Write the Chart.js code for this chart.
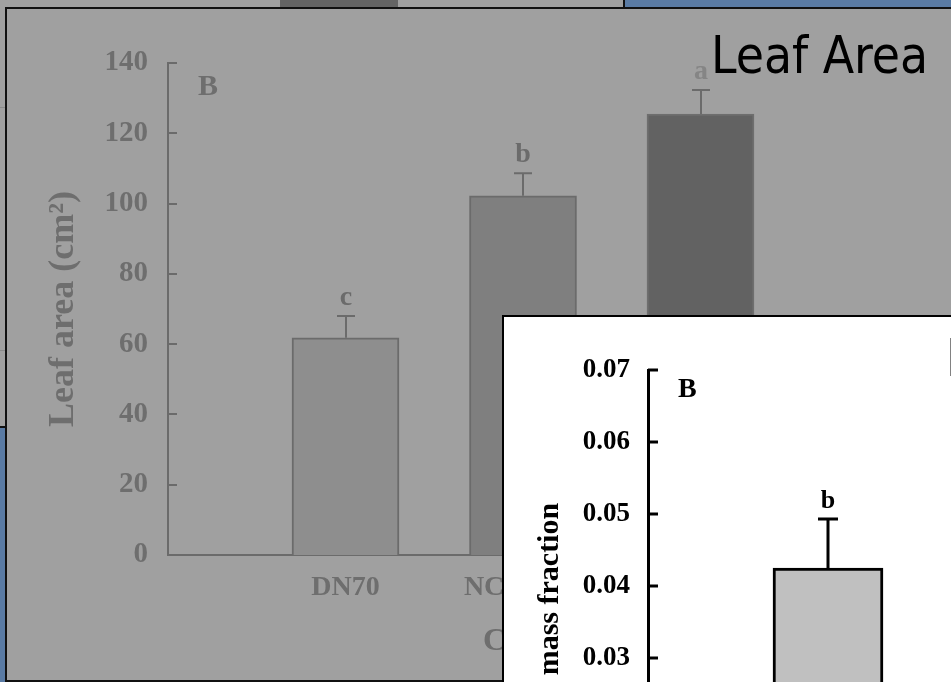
<!DOCTYPE html>
<html>
<head>
<meta charset="utf-8">
<title>Leaf Area</title>
<script src="https://cdn.jsdelivr.net/npm/chart.js@4.4.1/dist/chart.umd.min.js"></script>
<style>
  body { margin:0; width:951px; height:682px; overflow:hidden; position:relative; background:#5a7ba4; }
  .Block { position:absolute; }
  #TopStrip { left:0; top:0; width:623px; height:8px; background:#a0a0a0; }
  #TopBar { left:280px; top:0; width:118px; height:8px; background:#646464; }
  #TopEdge { left:623px; top:0; width:2px; height:8px; background:#111; }
  #LeftStrip { left:0; top:0; width:5px; height:426px; background:#a0a0a0; border-bottom:2px solid #111; }
  .StripLine { left:0; width:5px; height:1px; background:#8a8a8a; }
  #MainPanel { left:5px; top:7px; width:946px; height:671px; background:#a0a0a0; border-left:2px solid #111; border-top:2px solid #111; border-bottom:2px solid #111; overflow:hidden; }
  #MassPanel { left:502px; top:315px; width:449px; height:367px; background:#fff; border-left:2px solid #000; border-top:2px solid #000; overflow:hidden; }
  canvas { position:absolute; left:0; top:0; }
  .Serif { font-family:'Liberation Serif','Times New Roman',serif; font-weight:bold; line-height:1; white-space:nowrap; }
  .Big { font-family:'DejaVu Sans Condensed','DejaVu Sans',sans-serif; font-stretch:condensed; font-size:51px; line-height:1; color:#000; white-space:nowrap; }
</style>
</head>
<body>
<div class="Block" id="TopStrip"></div>
<div class="Block" id="TopBar"></div>
<div class="Block" id="TopEdge"></div>
<div class="Block" id="LeftStrip"></div>
<div class="Block StripLine" style="top:107px"></div>
<div class="Block StripLine" style="top:350px"></div>

<div class="Block" id="MainPanel"><canvas id="LeafChart" width="944" height="671"></canvas></div>
<div class="Block Big" style="left:711px;top:30px">Leaf Area</div>
<div class="Block Serif" style="left:198px;top:70px;font-size:30px;color:#6e6e6e">B</div>

<div class="Block" id="MassPanel"><canvas id="MassChart" width="960" height="680"></canvas></div>
<div class="Block Serif" style="left:678px;top:374px;font-size:28px;color:#000">B</div>
<div class="Block Big" style="left:946px;top:333px">LMF</div>

<script>
var Categories = ['', 'DN70', 'NC-DN70', 'DN70-NC', ''];

// leaf area chart (grey, behind)
var LeafArea = [null, 61.8, 102.2, 125.5, null];
var LeafAreaErr = [null, 6.2, 6.4, 6.8, null];
var LeafAreaLetters = ['', 'c', 'b', 'a', ''];
var AreaTicks = [0, 20, 40, 60, 80, 100, 120, 140];

// mass fraction chart (white, front) - only one bar is in view
var MassFraction = [null, 0.0425, null, null, null];
var MassErr = [null, 0.0068, null, null, null];
var MassLetters = ['', 'b', '', '', ''];
var MassTicks = [0, 0.01, 0.02, 0.03, 0.04, 0.05, 0.06, 0.07];

var SerifFont = "'Liberation Serif', 'Times New Roman', serif";

// tick marks pointing into the plot, like the original
function InwardTicks(color, width, length)
{
  return {
    id: 'inwardTicks',
    afterDatasetsDraw(chart) {
      const y = chart.scales.y;
      const ctx = chart.ctx;
      ctx.save();
      ctx.strokeStyle = color;
      ctx.lineWidth = width;
      y.ticks.forEach((t, i) => {
        const py = Math.round(y.getPixelForTick(i));
        ctx.beginPath();
        ctx.moveTo(y.right, py);
        ctx.lineTo(y.right + length, py);
        ctx.stroke();
      });
      ctx.restore();
    }
  };
}

// upper error bar plus the significance letter
function ErrorBars(values, errors, letters, style)
{
  return {
    id: 'errorBars',
    afterDatasetsDraw(chart) {
      const x = chart.scales.x;
      const y = chart.scales.y;
      const ctx = chart.ctx;
      ctx.save();
      values.forEach((v, i) => {
        if (v == null) return;
        const px = Math.round(x.getPixelForValue(i));
        const top = y.getPixelForValue(v);
        const cap = y.getPixelForValue(v + errors[i]);
        ctx.strokeStyle = style.color;
        ctx.lineWidth = style.width;
        ctx.beginPath();
        ctx.moveTo(px, top);
        ctx.lineTo(px, cap);
        ctx.moveTo(px - style.cap / 2, cap);
        ctx.lineTo(px + style.cap / 2, cap);
        ctx.stroke();
        ctx.fillStyle = style.letterColors[i] || style.color;
        ctx.font = 'bold ' + style.letterSize + 'px ' + SerifFont;
        ctx.textAlign = 'center';
        ctx.textBaseline = 'alphabetic';
        ctx.fillText(letters[i], px, cap - 11);
      });
      ctx.restore();
    }
  };
}

function setup()
{
  const grey = '#6b6b6b';

  new Chart('LeafChart', {
    type: 'bar',
    data: {
      labels: Categories,
      datasets: [{
        data: LeafArea,
        backgroundColor: ['#a0a0a0', '#8e8e8e', '#7f7f7f', '#626262', '#a0a0a0'],
        borderColor: ['#6b6b6b', '#6b6b6b', '#6b6b6b', '#6e6e6e', '#6b6b6b'],
        borderWidth: 2,
        barThickness: 107
      }]
    },
    options: {
      responsive: false,
      animation: false,
      layout: { padding: { top: 54, right: 73, left: 0, bottom: 0 } },
      plugins: { legend: { display: false }, tooltip: { enabled: false } },
      scales: {
        x: {
          offset: false,
          grid: { display: false, drawTicks: false },
          border: { color: grey, width: 2 },
          ticks: { color: '#6e6e6e', padding: 16, maxRotation: 0, autoSkip: false, font: { family: SerifFont, size: 28, weight: 'bold' } },
          title: { display: true, text: 'Clone', color: '#6e6e6e', padding: { top: 0, bottom: 19 }, font: { family: SerifFont, size: 32, weight: 'bold' } },
          afterFit: s => { s.height = 125; }
        },
        y: {
          min: 0,
          max: 140,
          grid: { display: false, drawTicks: false },
          border: { color: grey, width: 2 },
          afterBuildTicks: s => { s.ticks = AreaTicks.map(v => ({ value: v })); },
          ticks: { color: '#6e6e6e', padding: 20, font: { family: SerifFont, size: 29, weight: 'bold' } },
          title: { display: true, text: 'Leaf area (cm²)', color: '#6e6e6e', padding: { top: 35, bottom: 0 }, font: { family: SerifFont, size: 36, weight: 'bold' } },
          afterFit: s => { s.width = 161; }
        }
      }
    },
    plugins: [
      InwardTicks(grey, 2, 9),
      ErrorBars(LeafArea, LeafAreaErr, LeafAreaLetters, { color: grey, width: 2, cap: 18, letterSize: 28, letterColors: ['', '#6b6b6b', '#6b6b6b', '#858585', ''] })
    ]
  });

  new Chart('MassChart', {
    type: 'bar',
    data: {
      labels: Categories,
      datasets: [{
        data: MassFraction,
        backgroundColor: '#c0c0c0',
        borderColor: '#000',
        borderWidth: 3,
        barThickness: 110
      }]
    },
    options: {
      responsive: false,
      animation: false,
      layout: { padding: { top: 53, right: 96, left: 0, bottom: 0 } },
      plugins: { legend: { display: false }, tooltip: { enabled: false } },
      scales: {
        x: {
          offset: false,
          grid: { display: false, drawTicks: false },
          border: { color: '#000', width: 3 },
          ticks: { color: '#000', padding: 16, maxRotation: 0, autoSkip: false, font: { family: SerifFont, size: 27, weight: 'bold' } },
          afterFit: s => { s.height = 123; }
        },
        y: {
          min: 0,
          max: 0.07,
          grid: { display: false, drawTicks: false },
          border: { color: '#000', width: 3 },
          afterBuildTicks: s => { s.ticks = MassTicks.map(v => ({ value: v })); },
          ticks: { color: '#000', padding: 18, callback: v => v.toFixed(2), font: { family: SerifFont, size: 27, weight: 'bold' } },
          title: { display: true, text: 'Leaf mass fraction', color: '#000', padding: { top: 28, bottom: 0 }, font: { family: SerifFont, size: 30, weight: 'bold' } },
          afterFit: s => { s.width = 144; }
        }
      }
    },
    plugins: [
      InwardTicks('#000', 3, 10),
      ErrorBars(MassFraction, MassErr, MassLetters, { color: '#000', width: 3, cap: 20, letterSize: 26, letterColors: [] })
    ]
  });
}

setup();
</script>
</body>
</html>
